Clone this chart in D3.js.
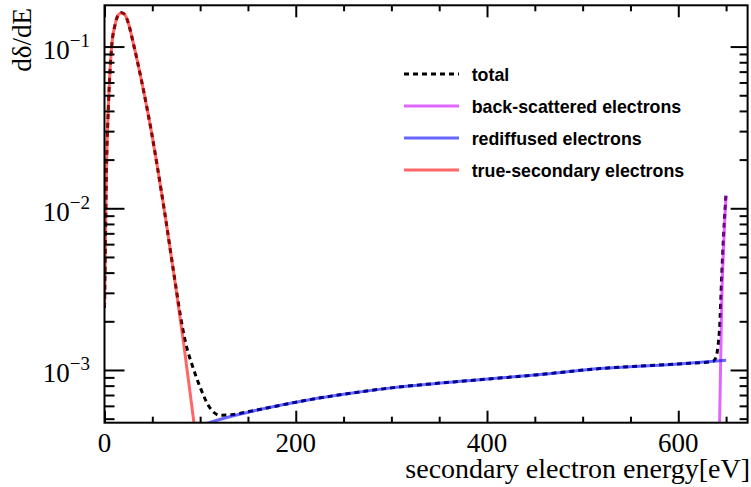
<!DOCTYPE html>
<html lang="en">
<head>
<meta charset="utf-8">
<title>Secondary electron spectrum</title>
<script src="https://cdn.jsdelivr.net/npm/d3@7/dist/d3.min.js"></script>
<style>
  body { margin: 0; background: #fff; }
  .legend text { font-family: "Liberation Sans", Arial, sans-serif; font-weight: bold; font-size: 17.8px; }
</style>
</head>
<body>
<svg width="751" height="487"></svg>
<script>
// energy [eV] and dδ/dE
var trueE   = [0, 1, 2.3, 4, 7.5, 11, 14.4, 18, 21.4, 24.9, 30.1, 37.1, 45.8, 49.4, 54.6, 63.3, 71.9, 81.8, 93.6, 100];
var trueVal = [2.42e-3, 6.4e-3, 0.020, 0.0416, 0.100, 0.136, 0.157, 0.162, 0.157, 0.140, 0.105, 0.0684, 0.0378, 0.029, 0.0191, 0.00912, 0.00416, 0.00161, 4.69e-4, 2.4e-4];

var rediffE   = [100, 109.6, 152.4, 213, 250, 300, 389, 450, 518, 600, 650];
var rediffVal = [4.5e-4, 4.72e-4, 5.52e-4, 6.53e-4, 7.08e-4, 7.75e-4, 8.67e-4, 9.31e-4, 1.02e-3, 1.09e-3, 1.148e-3];

var backE   = [641, 643.2, 645.5, 647.5, 650];
var backVal = [1.5e-4, 4.7e-4, 2.7e-3, 6.0e-3, 0.0120];

var totalE   = [0, 1, 2.3, 4, 7.5, 11, 14.4, 18, 21.4, 24.9, 30.1, 37.1, 45.8, 49.4, 54.6, 63.3, 71.9, 81.8, 84.2, 92.9, 99.9, 110.3, 120.8, 134.4, 152.4, 213, 250, 300, 389, 450, 518, 600, 636, 639.5, 641.5, 643.2, 645.5, 647.5, 650];
var totalVal = [2.42e-3, 6.4e-3, 0.020, 0.0416, 0.100, 0.136, 0.157, 0.162, 0.157, 0.140, 0.105, 0.0684, 0.0378, 0.029, 0.0191, 0.00912, 0.00418, 1.8e-3, 1.53e-3, 1.02e-3, 7.85e-4, 5.82e-4, 5.25e-4, 5.3e-4, 5.55e-4, 6.53e-4, 7.08e-4, 7.75e-4, 8.67e-4, 9.31e-4, 1.02e-3, 1.09e-3, 1.13e-3, 1.2e-3, 1.4e-3, 1.8e-3, 3.9e-3, 7.0e-3, 0.0125];

var xMajor = [0, 200, 400, 600];
var yMajor = [1e-3, 1e-2, 1e-1];
var yMajorExp = ["\u22123", "\u22122", "\u22121"];

var legendNames = ["total", "back-scattered electrons", "rediffused electrons", "true-secondary electrons"];

var svg = d3.select("svg");
var pLeft = 104.5, pRight = 747.6, pTop = 5.3, pBottom = 422.7;

var x = d3.scaleLinear().domain([0, 672.5]).range([pLeft, pRight]);
var y = d3.scaleLog().domain([4.72e-4, 0.18]).range([pBottom, pTop]);

svg.append("clipPath").attr("id", "clip")
  .append("rect").attr("x", pLeft).attr("y", pTop)
  .attr("width", pRight - pLeft).attr("height", pBottom - pTop);

function zip(es, vs) { return es.map(function(e, i) { return [e, vs[i]]; }); }

var line = d3.line()
  .x(function(d) { return x(d[0]); })
  .y(function(d) { return y(d[1]); })
  .curve(d3.curveMonotoneX);

var plot = svg.append("g").attr("clip-path", "url(#clip)");

plot.append("path").datum(zip(totalE, totalVal))
  .attr("d", line).attr("fill", "none")
  .attr("stroke", "#000").attr("stroke-width", 3).attr("stroke-dasharray", "5,4");

var series = [
  { e: backE, v: backVal, c: "rgba(204,0,255,0.6)" },
  { e: rediffE, v: rediffVal, c: "rgba(0,0,255,0.6)" },
  { e: trueE, v: trueVal, c: "rgba(255,0,0,0.6)" }
];
series.forEach(function(s) {
  plot.append("path").datum(zip(s.e, s.v))
    .attr("d", line).attr("fill", "none")
    .attr("stroke", s.c).attr("stroke-width", 3);
});

// axes: ticks point inward on all four sides
var xMinor = d3.range(0, 651, 50).filter(function(v) { return xMajor.indexOf(v) < 0; });
var yAll = y.ticks().filter(function(v) { return yMajor.indexOf(v) < 0; });

function drawTicks(axis, tr) {
  svg.append("g").attr("transform", tr).call(axis)
    .call(function(g) { g.select(".domain").remove(); })
    .selectAll("line").attr("stroke", "#000").attr("stroke-width", 2);
}

drawTicks(d3.axisBottom(x).tickValues(xMajor).tickSize(-12).tickFormat(""), "translate(0," + pBottom + ")");
drawTicks(d3.axisBottom(x).tickValues(xMinor).tickSize(-6).tickFormat(""), "translate(0," + pBottom + ")");
drawTicks(d3.axisTop(x).tickValues(xMajor).tickSize(-12).tickFormat(""), "translate(0," + pTop + ")");
drawTicks(d3.axisTop(x).tickValues(xMinor).tickSize(-6).tickFormat(""), "translate(0," + pTop + ")");
drawTicks(d3.axisLeft(y).tickValues(yMajor).tickSize(-20).tickFormat(""), "translate(" + pLeft + ",0)");
drawTicks(d3.axisLeft(y).tickValues(yAll).tickSize(-10).tickFormat(""), "translate(" + pLeft + ",0)");
drawTicks(d3.axisRight(y).tickValues(yMajor).tickSize(-17).tickFormat(""), "translate(" + pRight + ",0)");
drawTicks(d3.axisRight(y).tickValues(yAll).tickSize(-8).tickFormat(""), "translate(" + pRight + ",0)");

svg.append("rect").attr("x", pLeft).attr("y", pTop)
  .attr("width", pRight - pLeft).attr("height", pBottom - pTop)
  .attr("fill", "none").attr("stroke", "#000").attr("stroke-width", 2);

var serif = "'Liberation Serif', 'Times New Roman', serif";

svg.selectAll(".xlab").data(xMajor).enter().append("text")
  .attr("x", function(d) { return x(d); }).attr("y", 452)
  .attr("text-anchor", "middle").attr("font-family", serif).attr("font-size", 27)
  .text(function(d) { return d; });

var ylab = svg.selectAll(".ylab").data(yMajor).enter().append("text")
  .attr("x", 90).attr("y", function(d) { return y(d) + 12.5; })
  .attr("text-anchor", "end").attr("font-family", serif).attr("font-size", 27);
ylab.append("tspan").text("10");
ylab.append("tspan").attr("dy", -12).attr("font-size", 19)
  .text(function(d, i) { return yMajorExp[i]; });

svg.append("text").attr("x", 750).attr("y", 478)
  .attr("text-anchor", "end").attr("font-family", serif).attr("font-size", 28)
  .text("secondary electron energy[eV]");

svg.append("text").attr("transform", "translate(31,8) rotate(-90)")
  .attr("text-anchor", "end").attr("font-family", serif).attr("font-size", 27)
  .text("d\u03b4/dE");

// legend
var legColors = ["#000", "rgba(204,0,255,0.6)", "rgba(0,0,255,0.6)", "rgba(255,0,0,0.6)"];
var leg = svg.append("g").attr("class", "legend");
var rows = leg.selectAll("g").data(legendNames).enter().append("g")
  .attr("transform", function(d, i) { return "translate(0," + (74 + i * 32) + ")"; });
rows.append("line").attr("x1", 404).attr("x2", 459)
  .attr("stroke", function(d, i) { return legColors[i]; })
  .attr("stroke-width", 3)
  .attr("stroke-dasharray", function(d, i) { return i === 0 ? "5,4" : null; });
rows.append("text").attr("x", 471.7).attr("y", 6.5).text(function(d) { return d; });
</script>
</body>
</html>
